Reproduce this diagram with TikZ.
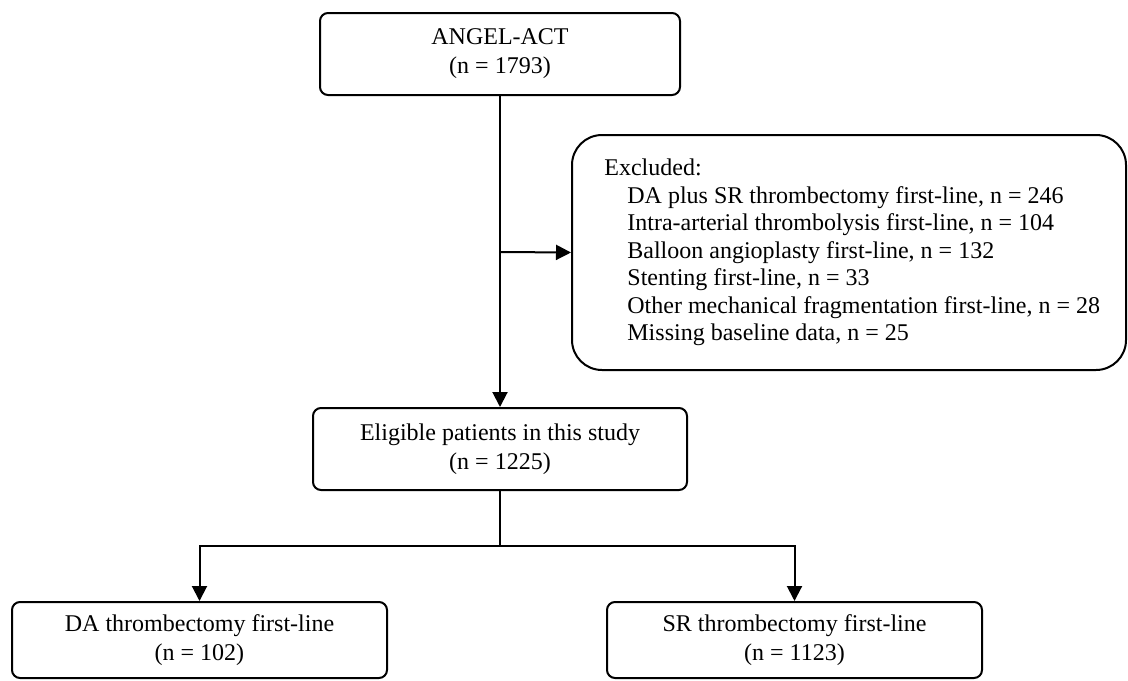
\documentclass[tikz,border=0pt]{standalone}
\usepackage{fontspec}
\setmainfont{Liberation Serif}
\usetikzlibrary{arrows.meta}
\begin{document}
\begin{tikzpicture}[x=0.5pt,y=-0.5pt,
  box/.style={draw,line width=1pt,rounded corners=4pt,align=center,inner sep=0pt,
    font=\fontsize{12}{14.6}\selectfont},
  conn/.style={line width=1pt},
  arr/.style={line width=1pt,-{Triangle[length=7.5pt,width=7.5pt]}}]
\useasboundingbox (0,0) rectangle (1128,680);
\node[box,minimum width=180pt,minimum height=41pt] (top) at (500,54) {ANGEL-ACT\\(n = 1793)};
\node[box,rounded corners=15pt,minimum width=277pt,minimum height=117.5pt] (excl) at (849,252.5) {};
\node[anchor=west,align=left,inner sep=0pt,font=\fontsize{12}{13.75}\selectfont] (excltext) at ([xshift=16.5pt]excl.west)
  {Excluded:\\
  \hspace*{11.5pt}DA plus SR thrombectomy first-line, n = 246\\
  \hspace*{11.5pt}Intra-arterial thrombolysis first-line, n = 104\\
  \hspace*{11.5pt}Balloon angioplasty first-line, n = 132\\
  \hspace*{11.5pt}Stenting first-line, n = 33\\
  \hspace*{11.5pt}Other mechanical fragmentation first-line, n = 28\\
  \hspace*{11.5pt}Missing baseline data, n = 25};
\node[box,minimum width=187pt,minimum height=41pt] (elig) at (500,449) {Eligible patients in this study\\(n = 1225)};
\node[box,minimum width=187.5pt,minimum height=38pt] (da) at (199.5,640) {DA thrombectomy first-line\\(n = 102)};
\node[box,minimum width=187.5pt,minimum height=38pt] (sr) at (794.5,640) {SR thrombectomy first-line\\(n = 1123)};
\coordinate (j1) at (500,252);
\coordinate (j2) at (500,546);
\draw[arr] (top.south) -- (elig.north);
\draw[arr] (j1) -- (excl.west);
\draw[conn] (elig.south) -- (j2);
\draw[arr] (j2) -| (da.north);
\draw[arr] (j2) -| (sr.north);
\end{tikzpicture}
\end{document}
